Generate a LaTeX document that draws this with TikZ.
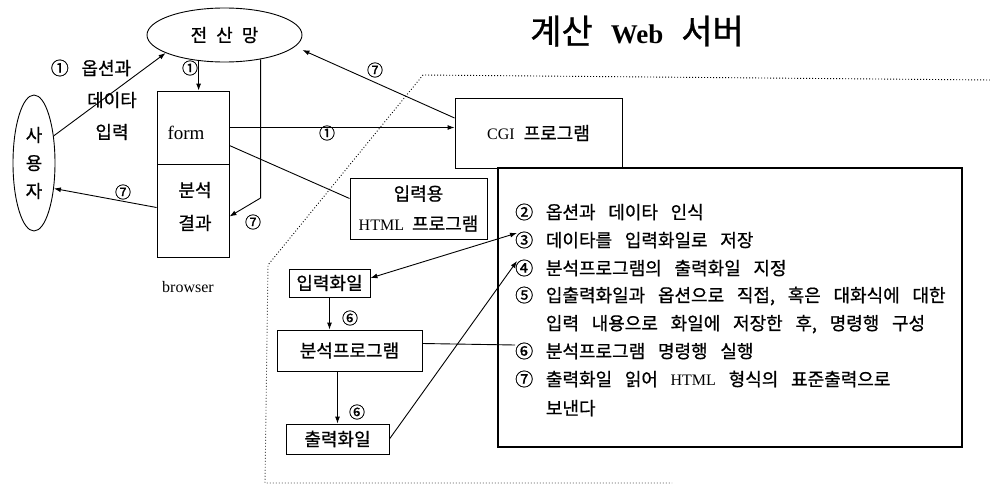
\documentclass[tikz,border=0pt]{standalone}
\usepackage{fontspec}
\setmainfont{Liberation Serif}
\newfontfamily\kr{Noto Sans CJK KR}[WordSpace=3.15,FakeBold=0.8]
\usetikzlibrary{arrows.meta,shapes.geometric,calc}
\begin{document}
\begin{tikzpicture}[x=1pt,y=-1pt,
  box/.style={draw,line width=0.9pt,inner sep=0pt},
  lat/.style={inner sep=0pt,font=\fontsize{16}{19}\selectfont},
  kt/.style={inner sep=0pt,font=\kr\fontsize{18}{22}\selectfont},
  num/.style={inner sep=0pt,font=\kr\fontsize{16}{18}\selectfont},
  conn/.style={line width=0.9pt},
  arr/.style={conn,-{Latex[length=7pt,width=5pt]}},
  dual/.style={conn,{Latex[length=7pt,width=5pt]}-{Latex[length=7pt,width=5pt]}},
  item/.style={anchor=west,inner sep=0pt,font=\kr\fontsize{18}{22}\selectfont},
  bound/.style={line width=0.9pt,dash pattern=on 0.9pt off 2.1pt},
]
\useasboundingbox (0,0) rectangle (990,487);

% title
\node[inner sep=0pt] (title) at (637,31) {{\kr\fontsize{34}{36}\selectfont 계산}\hspace{18pt}{\fontsize{27}{30}\selectfont\bfseries Web}\hspace{18pt}{\kr\fontsize{34}{36}\selectfont 서버}};

% server boundary
\draw[bound] (990,80) -- (423,75) -- (268,265) -- (265,483) -- (672,483);

% nodes
\node[box,ellipse,minimum width=155pt,minimum height=54pt,font=\kr\fontsize{18}{22}\selectfont] (net) at (224.5,35) {전\hspace{9pt}산\hspace{9pt}망};
\node[box,ellipse,minimum width=42pt,minimum height=136pt,align=center,font=\kr\fontsize{18}{28}\selectfont] (user) at (34,163) {사\\용\\자};
\node[box,minimum width=72pt,minimum height=73pt] (form) at (193,127.5) {};
\node[box,minimum width=72pt,minimum height=93pt] (res) at (193,210.5) {};
\node[lat,font=\fontsize{19}{22}\selectfont] (formtxt) at (186,133) {form};
\node[kt] (restxt1) at (195,190) {분석};
\node[kt] (restxt2) at (195,223) {결과};
\node[lat] (browser) at (188,287) {browser};

\node[box,minimum width=167pt,minimum height=70pt,font=\fontsize{16}{19}\selectfont] (cgi) at (538.5,133) {CGI\hspace{9pt}{\kr\fontsize{18}{22}\selectfont 프로그램}};
\node[box,minimum width=137pt,minimum height=61pt,align=center,font=\fontsize{16}{30}\selectfont] (html) at (418.5,208.5) {{\kr\fontsize{18}{30}\selectfont 입력용}\\HTML\hspace{8pt}{\kr\fontsize{18}{30}\selectfont 프로그램}};

\node[box,line width=2.6pt,minimum width=464pt,minimum height=279pt] (big) at (730,307.5) {};
\node[box,minimum width=81pt,minimum height=28pt,font=\kr\fontsize{18}{22}\selectfont] (infile) at (329.5,283) {입력화일};
\node[box,minimum width=145pt,minimum height=41pt,font=\kr\fontsize{18}{22}\selectfont] (prog) at (349.5,350.5) {분석프로그램};
\node[box,minimum width=103pt,minimum height=30pt,font=\kr\fontsize{18}{22}\selectfont] (outfile) at (337.5,439) {출력화일};

% list in the server box
\node[item] (t2) at (515,212) {② 옵션과 데이타 인식};
\node[item] (t3) at (515,240) {③ 데이타를 입력화일로 저장};
\node[item] (t4) at (515,268) {④ 분석프로그램의 출력화일 지정};
\node[item] (t5) at (515,296) {⑤ 입출력화일과 옵션으로 직접, 혹은 대화식에 대한};
\node[item] (t5b) at (515,324) {\phantom{⑤ }입력 내용으로 화일에 저장한 후, 명령행 구성};
\node[item] (t6) at (515,351) {⑥ 분석프로그램 명령행 실행};
\node[item] (t7) at (515,379) {⑦ 출력화일 읽어 {\rmfamily\fontsize{16}{19}\selectfont HTML} 형식의 표준출력으로};
\node[item] (t7b) at (515,408) {\phantom{⑦ }보낸다};

% labels
\node[kt] (l1a) at (91,68) {① 옵션과};
\node[kt] (l1b) at (112,100) {데이타};
\node[kt] (l1c) at (112,132) {입력};
\node[num] (n1a) at (190,68) {①};
\node[num] (n7a) at (253,222) {⑦};
\node[num] (n7b) at (123,192) {⑦};
\node[num] (n1b) at (327,133) {①};
\node[num] (n7c) at (375,70) {⑦};
\node[num] (n6a) at (350,318) {⑥};
\node[num] (n6b) at (357,412) {⑥};

% connectors
\coordinate (b7) at (260,198);
\draw[arr] (user.54) -- (net.197);
\draw[arr] (net.225) -- (net.225 |- form.north);
\draw[arr] (net.-34) -- (net.-34 |- b7) -- ([yshift=-6pt]res.east);
\draw[arr] ([yshift=3pt]res.west) -- (user.-52);
\draw[arr] (form.east) -- (form.east -| cgi.west);
\draw[arr] ([yshift=15pt]cgi.west) -- ([yshift=-15pt]net.east);
\draw[conn] ([yshift=-18pt]form.east) -- ([yshift=10pt]html.west);
\draw[dual] ([shift={(2pt,7pt)}]t3.west) -- ([yshift=5pt]infile.east);
\draw[arr] (outfile.east) -- ([shift={(2pt,7pt)}]t4.west);
\draw[conn] ([yshift=7pt]prog.east) -- ([yshift=6pt]t6.west);
\draw[arr] (infile.south) -- (infile.south |- prog.north);
\draw[arr] (outfile.north |- prog.south) -- (outfile.north);
\end{tikzpicture}
\end{document}
